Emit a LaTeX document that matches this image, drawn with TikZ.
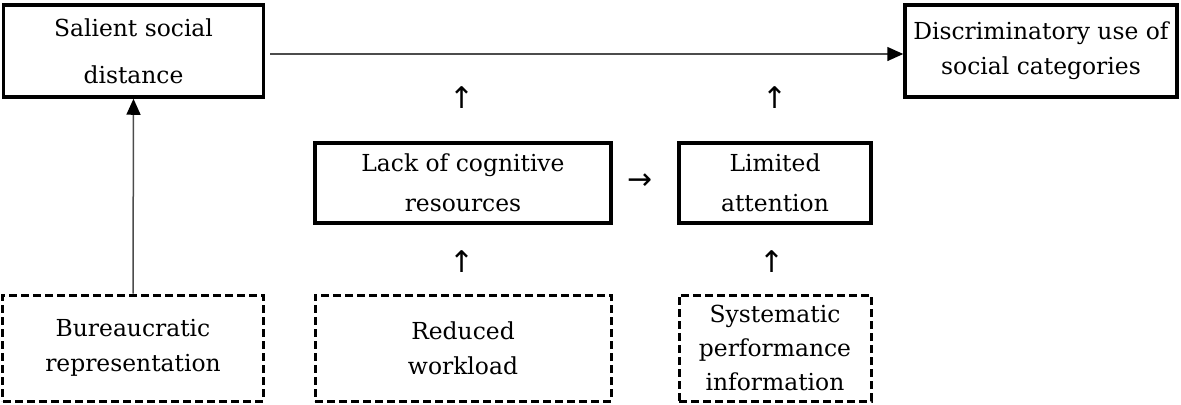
\documentclass[tikz,border=0pt]{standalone}
\usepackage{fontspec}
\setmainfont{DejaVu Serif}
\newfontfamily\arrowfont{DejaVu Sans}
\usetikzlibrary{arrows.meta}
\begin{document}
\begin{tikzpicture}[x=1bp,y=-1bp,
  solidbox/.style={draw=black, line width=3.5bp, inner sep=0pt, align=center, text=black},
  dashbox/.style={draw=black, line width=3bp, dash pattern=on 8bp off 4bp, inner sep=0pt, align=center},
  link/.style={draw=black!70, line width=1.5bp, -{Triangle[length=16bp,width=14bp,fill=black,color=black]}},
  txt/.style={font=\fontsize{23.5}{35}\selectfont},
  glyph/.style={font=\arrowfont\fontsize{30}{34}\selectfont, inner sep=0pt}]
\useasboundingbox (0,0) rectangle (1181,404);
\node[solidbox, font=\fontsize{23.5}{47}\selectfont, minimum width=260bp, minimum height=92bp] (sal) at (133.5,51) {Salient social\\distance};
\node[solidbox, txt, minimum width=272bp, minimum height=92bp] (dis) at (1041,51) {Discriminatory use of\\social categories};
\node[solidbox, font=\fontsize{23.5}{40}\selectfont, minimum width=296bp, minimum height=80bp] (lack) at (463,183) {Lack of cognitive\\resources};
\node[solidbox, font=\fontsize{23.5}{40}\selectfont, minimum width=192bp, minimum height=80bp] (lim) at (775,183) {Limited\\attention};
\node[dashbox, txt, minimum width=260bp, minimum height=106bp] (bur) at (133,348) {Bureaucratic\\representation};
\node[dashbox, txt, minimum width=296bp, minimum height=106bp] (red) at (463,348) {Reduced\\workload};
\node[dashbox, font=\fontsize{23.5}{34}\selectfont, minimum width=192bp, minimum height=106bp] (sys) at (775,348) {Systematic\\performance\\information};
\draw[link] (sal.east) ++(5bp,-3bp) coordinate (s0) -- (dis.west |- s0);
\draw[link] (bur.north) -- (sal.south);
\node[glyph] (u1) at (462,98) {↑};
\node[glyph] (u2) at (775,98) {↑};
\node[glyph] (u3) at (462,262) {↑};
\node[glyph] (u4) at (772,262) {↑};
\node[glyph] (r1) at (640,182) {→};
\end{tikzpicture}
\end{document}
